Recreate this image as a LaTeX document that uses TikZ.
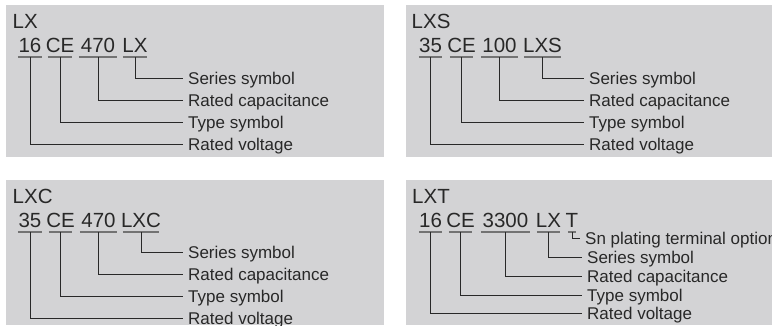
\documentclass[tikz,border=0pt]{standalone}
\usepackage{fontspec}
\setmainfont{Liberation Sans}
\usepackage{tikz}
\definecolor{panelgray}{RGB}{211,211,213}
\definecolor{inkdark}{RGB}{40,40,40}
\definecolor{rulegray}{RGB}{115,115,115}
\tikzset{
  panel/.style={fill=panelgray, draw=none},
  series/.style={font=\fontsize{20.5}{24}\selectfont, text=inkdark,
    anchor=base west, inner sep=0pt},
  code/.style={font=\fontsize{20.5}{24}\selectfont, text=inkdark,
    anchor=base, inner sep=0pt, text height=15pt, text depth=5pt},
  field/.style={font=\fontsize{17}{20}\selectfont, text=inkdark,
    anchor=west, inner xsep=5pt, inner ysep=0pt, text height=12pt, text depth=0pt},
  uline/.style={draw=rulegray, line width=1.5pt},
  lead/.style={draw=inkdark, line width=1pt}
}
\newcommand{\cw}[2]{\makebox[#1pt]{#2}}

\begin{document}
\begin{tikzpicture}[x=1pt, y=-1pt]
  \useasboundingbox (0,0) rectangle (772,325);
  \clip (0,0) rectangle (772,325);

  % Panels
  \fill[panel] (6,5) rectangle (384,157);
  \fill[panel] (406,5) rectangle (772,157);
  \fill[panel] (6,180) rectangle (384,325);
  \fill[panel] (406,180) rectangle (772,325);

  % LX
  \node[series] (lx) at (12.5,28) {LX};
  \node[code] (lx-v) at (30,52) {\cw{24}{16}};
  \node[code] (lx-t) at (60,52) {\cw{24}{CE}};
  \node[code] (lx-c) at (98,52) {\cw{38}{470}};
  \node[code] (lx-s) at (135,52) {\cw{24}{LX}};
  \node[field] (lx-ser) at (183,78) {Series symbol};
  \node[field] (lx-cap) at (183,100) {Rated capacitance};
  \node[field] (lx-typ) at (183,122) {Type symbol};
  \node[field] (lx-vol) at (183,144) {Rated voltage};
  \foreach \n in {v,t,c,s} \draw[uline] (lx-\n.south west) -- (lx-\n.south east);
  \draw[lead] (lx-s.south) |- (lx-ser.west);
  \draw[lead] (lx-c.south) |- (lx-cap.west);
  \draw[lead] (lx-t.south) |- (lx-typ.west);
  \draw[lead] (lx-v.south) |- (lx-vol.west);

  % LXS
  \node[series] (lxs) at (411.5,28) {LXS};
  \node[code] (lxs-v) at (430.5,52) {\cw{23}{35}};
  \node[code] (lxs-t) at (461.5,52) {\cw{23}{CE}};
  \node[code] (lxs-c) at (499.5,52) {\cw{37}{100}};
  \node[code] (lxs-s) at (542.5,52) {\cw{37}{LXS}};
  \node[field] (lxs-ser) at (584,78) {Series symbol};
  \node[field] (lxs-cap) at (584,100) {Rated capacitance};
  \node[field] (lxs-typ) at (584,122) {Type symbol};
  \node[field] (lxs-vol) at (584,144) {Rated voltage};
  \foreach \n in {v,t,c,s} \draw[uline] (lxs-\n.south west) -- (lxs-\n.south east);
  \draw[lead] (lxs-s.south) |- (lxs-ser.west);
  \draw[lead] (lxs-c.south) |- (lxs-cap.west);
  \draw[lead] (lxs-t.south) |- (lxs-typ.west);
  \draw[lead] (lxs-v.south) |- (lxs-vol.west);

  % LXC
  \node[series] (lxc) at (12.5,203) {LXC};
  \node[code] (lxc-v) at (30,227) {\cw{24}{35}};
  \node[code] (lxc-t) at (60.5,227) {\cw{23}{CE}};
  \node[code] (lxc-c) at (98.5,227) {\cw{37}{470}};
  \node[code] (lxc-s) at (141,227) {\cw{36}{LXC}};
  \node[field] (lxc-ser) at (183,252) {Series symbol};
  \node[field] (lxc-cap) at (183,274) {Rated capacitance};
  \node[field] (lxc-typ) at (183,296) {Type symbol};
  \node[field] (lxc-vol) at (183,318) {Rated voltage};
  \foreach \n in {v,t,c,s} \draw[uline] (lxc-\n.south west) -- (lxc-\n.south east);
  \draw[lead] (lxc-s.south) |- (lxc-ser.west);
  \draw[lead] (lxc-c.south) |- (lxc-cap.west);
  \draw[lead] (lxc-t.south) |- (lxc-typ.west);
  \draw[lead] (lxc-v.south) |- (lxc-vol.west);

  % LXT
  \node[series] (lxt) at (412,203) {LXT};
  \node[code] (lxt-v) at (430.5,227) {\cw{23}{16}};
  \node[code] (lxt-t) at (460.5,227) {\cw{23}{CE}};
  \node[code] (lxt-c) at (505.5,227) {\cw{49}{3300}};
  \node[code] (lxt-s) at (548.5,227) {\cw{23}{LX}};
  \node[code] (lxt-o) at (572,227) {\cw{8}{T}};
  \node[field] (lxt-opt) at (580,238) {Sn plating terminal option};
  \node[field] (lxt-ser) at (582,257) {Series symbol};
  \node[field] (lxt-cap) at (582,276) {Rated capacitance};
  \node[field] (lxt-typ) at (582,295) {Type symbol};
  \node[field] (lxt-vol) at (582,313) {Rated voltage};
  \foreach \n in {v,t,c,s,o} \draw[uline] (lxt-\n.south west) -- (lxt-\n.south east);
  \draw[lead] (lxt-o.south) |- (lxt-opt.west);
  \draw[lead] (lxt-s.south) |- (lxt-ser.west);
  \draw[lead] (lxt-c.south) |- (lxt-cap.west);
  \draw[lead] (lxt-t.south) |- (lxt-typ.west);
  \draw[lead] (lxt-v.south) |- (lxt-vol.west);
\end{tikzpicture}
\end{document}
